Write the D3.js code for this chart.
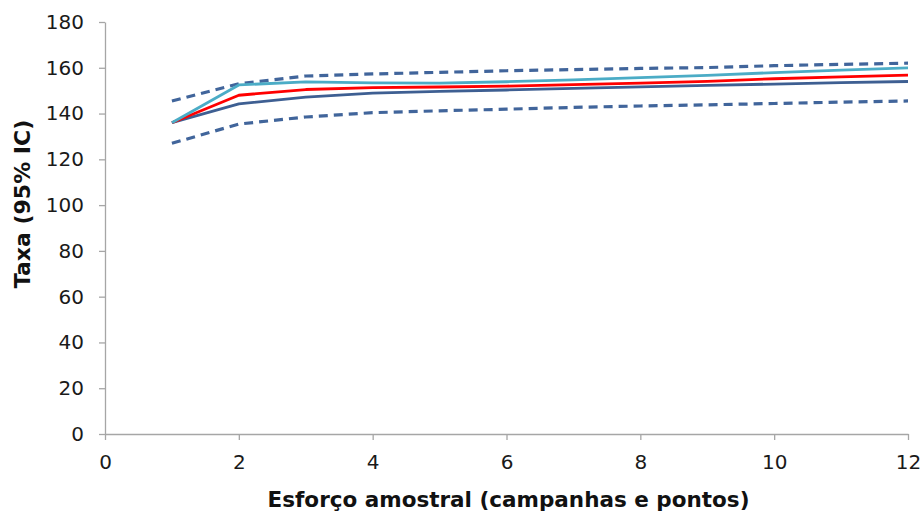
<!DOCTYPE html>
<html>
<head>
<meta charset="utf-8">
<script src="https://cdn.jsdelivr.net/npm/d3@7"></script>
<style>
  html, body { margin: 0; padding: 0; background: #fff; }
  svg { display: block; }
  .tick text { font-family: "DejaVu Sans", Verdana, sans-serif; fill: #1a1a1a; }
</style>
</head>
<body>
<div id="chart"></div>
<script>
/* data */
const esforco = [1, 2, 3, 4, 5, 6, 7, 8, 9, 10, 11, 12];
const icSuperior = [145.5, 153, 156.4, 157.3, 158.0, 158.7, 159.2, 159.7, 160.1, 160.9, 161.5, 162];
const serieCiano = [136, 152.5, 153.8, 153.4, 153.3, 153.9, 154.7, 155.7, 156.7, 157.9, 159, 160];
const serieVermelha = [136, 148, 150.5, 151.3, 151.6, 152, 152.6, 153.3, 154.1, 155.2, 156, 156.8];
const serieAzul = [136, 144.2, 147.2, 148.9, 149.7, 150.3, 151, 151.7, 152.3, 152.9, 153.5, 154];
const icInferior = [127, 135.4, 138.5, 140.4, 141.2, 141.9, 142.7, 143.3, 143.8, 144.4, 145, 145.5];
const xTicks = [0, 2, 4, 6, 8, 10, 12];
const yTicks = [0, 20, 40, 60, 80, 100, 120, 140, 160, 180];

const W = 924, H = 513;
const m = { top: 22, right: 16, bottom: 79, left: 105 };

const svg = d3.select('#chart').append('svg').attr('width', W).attr('height', H);

const x = d3.scaleLinear().domain([0, 12]).range([m.left, W - m.right]);
const y = d3.scaleLinear().domain([0, 180]).range([H - m.bottom, m.top]);

/* axes */
const axisColor = '#a6a6a6';
const gx = svg.append('g').attr('transform', `translate(0,${y(0)})`)
  .call(d3.axisBottom(x).tickValues(xTicks).tickSize(6).tickSizeOuter(0).tickPadding(15));
gx.selectAll('text').style('font-size', '20px');

const gy = svg.append('g').attr('transform', `translate(${x(0)},0)`)
  .call(d3.axisLeft(y).tickValues(yTicks).tickSize(6).tickSizeOuter(0).tickPadding(15));
gy.selectAll('text').style('font-size', '20px');

svg.selectAll('.domain, .tick line').attr('stroke', axisColor).attr('stroke-width', 1.3);

/* series */
const line = d3.line().x((d, i) => x(esforco[i])).y(d => y(d));

const series = [
  { vals: icInferior, color: '#41659b', w: 3.2, dash: '9,6' },
  { vals: icSuperior, color: '#41659b', w: 3.2, dash: '9,6' },
  { vals: serieAzul, color: '#3e5f92', w: 2.8, dash: null },
  { vals: serieVermelha, color: '#ff0000', w: 2.8, dash: null },
  { vals: serieCiano, color: '#4bacc6', w: 2.8, dash: null }
];

svg.append('g').selectAll('path').data(series).join('path')
  .attr('d', d => line(d.vals))
  .attr('fill', 'none')
  .attr('stroke', d => d.color)
  .attr('stroke-width', d => d.w)
  .attr('stroke-dasharray', d => d.dash)
  .attr('stroke-linejoin', 'round');

/* titles */
svg.append('text')
  .attr('x', (x(0) + x(12)) / 2 + 2).attr('y', 507)
  .attr('text-anchor', 'middle')
  .style('font-family', '"DejaVu Sans", Verdana, sans-serif')
  .style('font-size', '21.5px').style('font-weight', 'bold').style('fill', '#111')
  .text('Esforço amostral (campanhas e pontos)');

svg.append('text')
  .attr('transform', `translate(30,${(y(0) + y(180)) / 2 - 24}) rotate(-90)`)
  .attr('text-anchor', 'middle')
  .style('font-family', '"DejaVu Sans", Verdana, sans-serif')
  .style('font-size', '22px').style('font-weight', 'bold').style('fill', '#111')
  .text('Taxa (95% IC)');
</script>
</body>
</html>
